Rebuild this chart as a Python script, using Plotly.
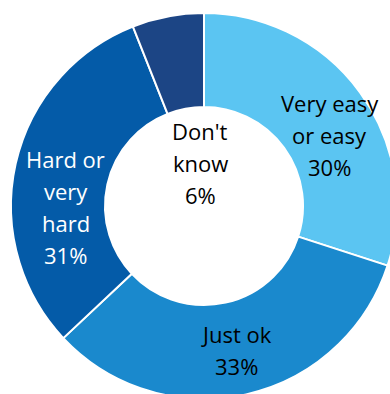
import plotly.graph_objects as go

categories = ["Very easy<br>or easy", "Just ok", "Hard or<br>very<br>hard", "Don't<br>know"]
values = [30, 33, 31, 6]
colors = ["#5BC5F2", "#1A89CD", "#045BA8", "#1C4585"]
text_colors = ["black", "black", "white", "black"]
# label block centre positions (paper coords)
label_x = [0.826, 0.583, 0.142, 0.490]
label_y = [0.684, 0.127, 0.497, 0.611]
LINE_SPACING = 32

fig = go.Figure(go.Pie(
    values=values,
    labels=categories,
    sort=False,
    direction="clockwise",
    rotation=0,
    hole=0.513,
    textinfo="none",
    hoverinfo="label+percent",
    marker=dict(colors=colors, line=dict(color="white", width=2)),
    showlegend=False,
))

for cat, v, x, y, c in zip(categories, values, label_x, label_y, text_colors):
    lines = cat.split("<br>") + [f"{v}%"]
    n = len(lines)
    for i, line in enumerate(lines):
        fig.add_annotation(
            x=x, y=y, xref="paper", yref="paper",
            text=line, showarrow=False,
            yshift=((n - 1) / 2 - i) * LINE_SPACING,
            font=dict(family="Open Sans", size=22, color=c),
            xanchor="center", yanchor="middle", align="center",
        )

fig.update_layout(
    width=397, height=399,
    margin=dict(l=11, r=0, t=13, b=0),
    paper_bgcolor="white",
    plot_bgcolor="white",
)

fig.write_html(
    "out.html",
    config={"displayModeBar": False},
    post_script="document.body.style.margin='0';document.body.style.overflow='hidden';",
)
